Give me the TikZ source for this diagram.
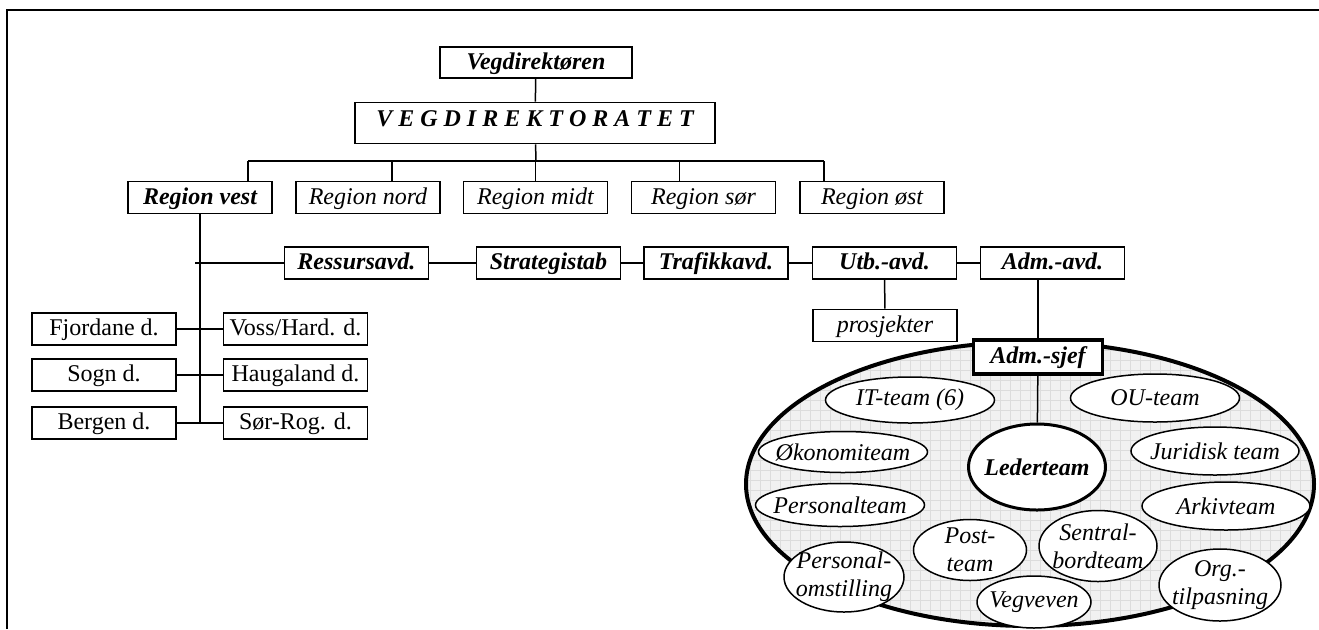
\documentclass[tikz,border=0pt]{standalone}
\usepackage{fontspec}
\setmainfont{Liberation Serif}
\usetikzlibrary{calc}
\usetikzlibrary{positioning}
\usetikzlibrary{shapes.geometric}
\definecolor{gridfill}{HTML}{F1F1F1}
\definecolor{gridline}{HTML}{DCDCDC}
\tikzset{
    org line/.style={
        line width=0.75pt,
    },
    unit box/.style={
        draw,
        rectangle,
        line width=0.8pt,
        fill=white,
        minimum width=72pt,
        minimum height=16pt,
        inner sep=0pt,
        text height=9pt,
        text depth=2.5pt,
        font=\large,
    },
    top box/.style={
        unit box,
        font=\large\bfseries\itshape,
    },
    region box/.style={
        unit box,
        font=\large\itshape,
    },
    team/.style={
        draw,
        ellipse,
        line width=0.75pt,
        fill=white,
        inner sep=0pt,
        label={[font=\large\itshape, align=center, inner sep=0pt]center:{#1}},
    },
    lead team/.style={
        draw,
        ellipse,
        line width=1.5pt,
        fill=white,
        inner sep=0pt,
        label={[font=\large\bfseries\itshape, inner sep=0pt]center:{#1}},
    },
}

\begin{document}
\begin{tikzpicture}[x=0.5pt, y=-0.5pt]

    \useasboundingbox (0,0) rectangle (1319,629);

    % frame
    \draw[org line] (7,629) -- (7,10) -- (1319,10);

    % top of the chart
    \node[top box, minimum width=96pt, minimum height=15.5pt] (vegdirektoren) at (536,62.5) {Vegdirektøren};
    \node[top box, minimum width=180pt, minimum height=20.5pt, text height=9pt, text depth=6pt] (vegdirektoratet) at (535,123) {V E G D I R E K T O R A T E T};

    \node[top box] (regvest) at (200,197.5) {Region vest};
    \node[region box] (regnord) at (368,197.5) {Region nord};
    \node[region box] (regmidt) at (535.5,197.5) {Region midt};
    \node[region box] (regsor) at (703.5,197.5) {Region sør};
    \node[region box] (regost) at (872,197.5) {Region øst};

    \coordinate (bus) at (536,161);
    \draw[org line] (vegdirektoren) -- (vegdirektoratet);
    \draw[org line] (vegdirektoratet) -- (bus);
    \foreach \reg/\shift in {regvest/48, regnord/24, regmidt/0, regsor/-24, regost/-48}
    {
        \coordinate (\reg-drop) at ($(\reg.north)+(\shift,0)$);
        \draw[org line] (\reg-drop) -- (\reg-drop |- bus);
    }
    \draw[org line] (regvest-drop |- bus) -- (regost-drop |- bus);

    % departments
    \node[top box] (ressursavd) at (356.5,263) {Ressursavd.};
    \node[top box] (strategistab) at (548.5,263) {Strategistab};
    \node[top box] (trafikkavd) at (716,263) {Trafikkavd.};
    \node[top box] (utbavd) at (884.5,263) {Utb.-avd.};
    \node[top box] (admavd) at (1052.5,263) {Adm.-avd.};
    \node[region box] (prosjekter) at (885,325.5) {prosjekter};

    \foreach \a/\b in {ressursavd/strategistab, strategistab/trafikkavd, trafikkavd/utbavd, utbavd/admavd}
    {
        \draw[org line] (\a) -- (\b);
    }
    \draw[org line] (utbavd) -- (prosjekter);

    % districts
    \node[unit box] (fjordane) at (104,329) {Fjordane d.};
    \node[unit box] (sogn) at (104,375) {Sogn d.};
    \node[unit box] (bergen) at (104,423) {Bergen d.};
    \node[unit box] (voss) at (295.5,329) {Voss/Hard. d.};
    \node[unit box] (haugaland) at (295.5,375) {Haugaland d.};
    \node[unit box] (sorrog) at (295.5,423) {Sør-Rog. d.};

    \draw[org line] (regvest.south) -- (regvest.south |- bergen.east);
    \draw[org line] ($(regvest.south |- ressursavd.west)+(-5,0)$) -- (ressursavd.west);
    \draw[org line] (fjordane) -- (voss);
    \draw[org line] (sogn) -- (haugaland);
    \draw[org line] (bergen) -- (sorrog);

    % administration
    \begin{scope}
        \clip (1030,484) ellipse [x radius=142pt, y radius=71pt];
        \fill[gridfill] (740,330) rectangle (1320,630);
        \foreach \gx in {740,750,...,1320}
        {
            \draw[gridline, line width=0.4pt] (\gx,330) -- (\gx,630);
        }
        \foreach \gy in {330,340,...,630}
        {
            \draw[gridline, line width=0.4pt] (740,\gy) -- (1320,\gy);
        }
    \end{scope}
    \draw[line width=2pt] (1030,484) ellipse [x radius=142pt, y radius=71pt];

    \node[top box, line width=1.6pt, minimum width=64.5pt, minimum height=17pt] (admsjef) at (1038,357) {Adm.-sjef};
    \draw[org line] (admsjef.north |- admavd.south) -- (admsjef.north);

    \node[lead team=Lederteam, minimum width=68.5pt, minimum height=43pt] (lederteam) at (1037,467) {};
    \draw[org line] (admsjef) -- (lederteam);

    \node[team={IT-team (6)}, minimum width=84.5pt, minimum height=23pt] (itteam) at (910,400) {};
    \node[team={OU-team}, minimum width=84.5pt, minimum height=24pt] (outeam) at (1155,398) {};
    \node[team={Økonomiteam}, minimum width=84.5pt, minimum height=20.5pt] (okonomi) at (843,452) {};
    \node[team={Juridisk team}, minimum width=84pt, minimum height=24pt] (juridisk) at (1215,451) {};
    \node[team={Personalteam}, minimum width=84.5pt, minimum height=21.5pt] (personal) at (840,505) {};
    \node[team={Arkivteam}, minimum width=84pt, minimum height=24pt] (arkiv) at (1226,506) {};
    \node[team={Post-\\team}, minimum width=56.5pt, minimum height=30.5pt] (post) at (970,550) {};
    \node[team={Sentral-\\bordteam}, minimum width=59pt, minimum height=35.5pt] (sentralbord) at (1098,546) {};
    \node[team={Personal-\\omstilling}, minimum width=60pt, minimum height=35pt] (omstilling) at (844,577) {};
    \node[team={Vegveven}, minimum width=57pt, minimum height=26pt] (vegveven) at (1034,602) {};
    \node[team={Org.-\\tilpasning}, minimum width=61pt, minimum height=36pt] (tilpasning) at (1220,585) {};

\end{tikzpicture}
\end{document}
